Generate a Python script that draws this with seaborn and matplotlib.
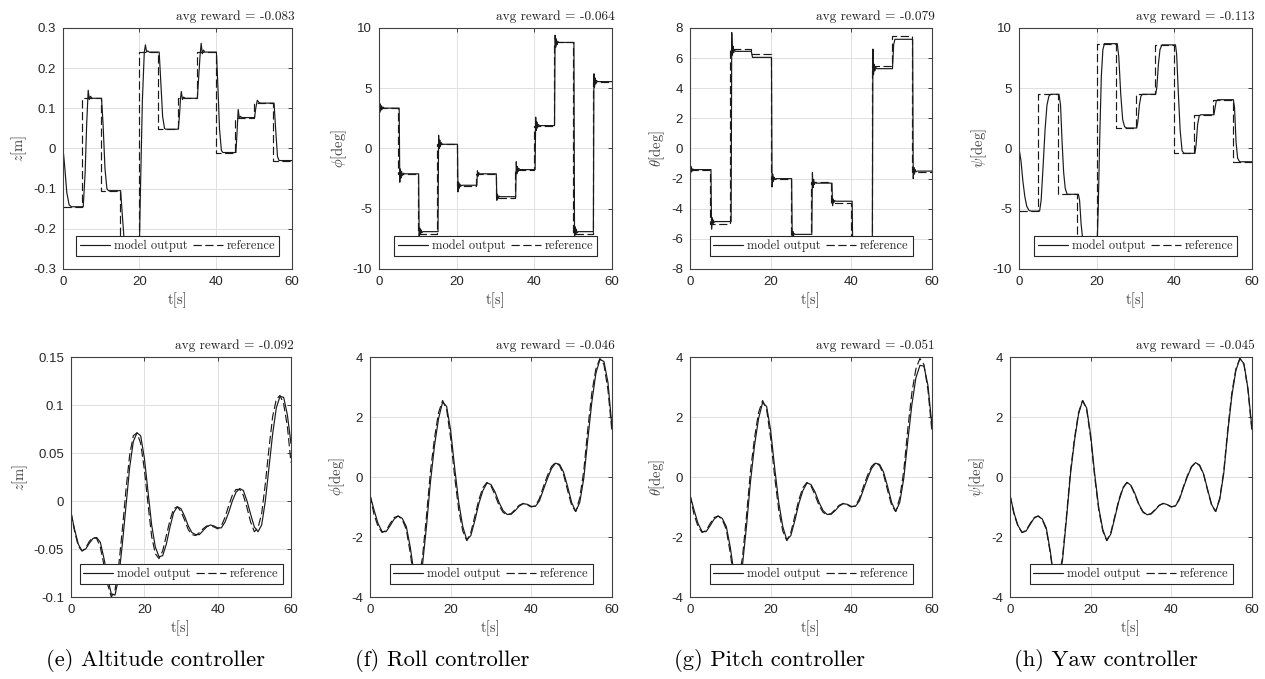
import numpy as np
import matplotlib.pyplot as plt
import seaborn as sns
from matplotlib.lines import Line2D

sns.set_theme(style="white")
plt.rcParams.update({
    "font.family": ["Liberation Sans", "DejaVu Sans"],
    "mathtext.fontset": "cm",
    "axes.edgecolor": "#404040",
    "axes.linewidth": 0.8,
    "xtick.direction": "in",
    "ytick.direction": "in",
    "xtick.top": True,
    "ytick.right": True,
    "xtick.major.size": 3,
    "ytick.major.size": 3,
    "xtick.major.width": 0.6,
    "ytick.major.width": 0.6,
    "xtick.color": "#262626",
    "ytick.color": "#262626",
    "xtick.major.pad": 5,
    "ytick.major.pad": 5,
    "axes.grid": True,
    "grid.color": "#e0e0e0",
    "grid.linewidth": 0.7,
})
SERIF = "cmr10"

# ---------------- data: step references (top row) ----------------
step_t = [0, 5, 10, 15, 20, 25, 30, 35, 40, 45, 50, 55, 60]
z_step_ref = [-0.145, 0.125, -0.105, -0.25, 0.24, 0.048, 0.125, 0.24, -0.01, 0.077, 0.113, -0.03, -0.03]
phi_step_ref = [3.35, -2.1, -7.1, 0.35, -3.15, -2.1, -4.1, -1.75, 1.9, 8.8, -7.1, 5.55, 5.55]
theta_step_ref = [-1.45, -5.0, 6.6, 6.25, -2.05, -5.85, -2.25, -3.6, -6.5, 5.5, 7.5, -1.55, -1.55]
psi_step_ref = [-5.2, 4.5, -3.8, -8.1, 8.7, 1.7, 4.5, 8.6, -0.4, 2.8, 4.05, -1.1, -1.1]

# model outputs for the step test, (t, value)
z_step_out = [
    (0, 0.0), (0.4, -0.04), (1.0, -0.11), (1.6, -0.14), (2.2, -0.145),
    (5.3, -0.145), (5.8, -0.06), (6.2, 0.06), (6.6, 0.145), (6.9, 0.122), (7.2, 0.13), (7.6, 0.125),
    (10.1, 0.125), (10.5, 0.06), (11.0, -0.05), (11.5, -0.1), (11.9, -0.105),
    (15.1, -0.105), (15.5, -0.16), (16.0, -0.225), (16.5, -0.25),
    (20.0, -0.25), (20.3, -0.1), (20.8, 0.12), (21.3, 0.24), (21.6, 0.258), (21.9, 0.24), (22.2, 0.243), (22.6, 0.24),
    (25.2, 0.24), (25.6, 0.17), (26.1, 0.08), (26.6, 0.05), (26.9, 0.048),
    (30.2, 0.048), (30.5, 0.08), (30.8, 0.125), (31.0, 0.142), (31.3, 0.122), (31.6, 0.128), (32.0, 0.125),
    (35.2, 0.125), (35.5, 0.17), (35.9, 0.23), (36.2, 0.262), (36.5, 0.236), (36.8, 0.245), (37.2, 0.24),
    (40.2, 0.24), (40.6, 0.15), (41.0, 0.05), (41.5, -0.005), (41.9, -0.01),
    (45.3, -0.01), (45.6, 0.04), (45.9, 0.097), (46.2, 0.075), (46.5, 0.08), (46.9, 0.077),
    (50.2, 0.077), (50.5, 0.1), (50.9, 0.12), (51.3, 0.115), (51.7, 0.113),
    (55.3, 0.113), (55.7, 0.05), (56.2, -0.02), (56.6, -0.03), (60.0, -0.03),
]
phi_step_out = [
    (0, 0.0), (0.1, 3.9), (0.2, 3.0), (0.3, 3.7), (0.45, 3.15), (0.6, 3.55), (0.8, 3.25), (1.0, 3.45), (1.3, 3.35),
    (5.2, 3.35), (5.35, -2.8), (5.5, -1.7), (5.65, -2.45), (5.8, -1.9), (6.0, -2.25), (6.3, -2.05), (6.6, -2.1),
    (10.2, -2.1), (10.35, -7.35), (10.5, -6.6), (10.65, -7.15), (10.8, -6.75), (11.0, -7.0), (11.3, -6.9),
    (15.2, -6.9), (15.35, 1.1), (15.5, 0.0), (15.65, 0.7), (15.8, 0.15), (16.0, 0.5), (16.3, 0.35),
    (20.2, 0.35), (20.35, -3.6), (20.5, -2.8), (20.65, -3.3), (20.8, -2.95), (21.0, -3.15), (21.3, -3.05),
    (25.2, -3.05), (25.35, -1.85), (25.5, -2.3), (25.7, -2.0), (25.9, -2.15), (26.2, -2.1),
    (30.2, -2.1), (30.35, -4.3), (30.5, -3.8), (30.7, -4.15), (30.9, -3.95), (31.2, -4.0),
    (35.2, -4.0), (35.35, -1.1), (35.5, -2.1), (35.65, -1.5), (35.8, -1.9), (36.0, -1.65), (36.3, -1.75),
    (40.2, -1.75), (40.35, 2.6), (40.5, 1.5), (40.65, 2.2), (40.8, 1.7), (41.0, 2.0), (41.3, 1.9),
    (45.2, 1.9), (45.35, 9.4), (45.5, 8.4), (45.65, 9.1), (45.8, 8.6), (46.0, 8.9), (46.3, 8.8),
    (50.2, 8.8), (50.35, -7.4), (50.5, -6.5), (50.65, -7.15), (50.8, -6.7), (51.0, -7.0), (51.3, -6.9),
    (55.2, -6.9), (55.35, 6.2), (55.5, 5.1), (55.65, 5.85), (55.8, 5.35), (56.0, 5.65), (56.3, 5.55),
    (60.0, 5.55),
]
theta_step_out = [
    (0, 0.0), (0.1, -1.75), (0.25, -1.2), (0.4, -1.55), (0.6, -1.35), (0.9, -1.4),
    (5.2, -1.4), (5.35, -5.35), (5.5, -4.6), (5.65, -5.05), (5.8, -4.75), (6.0, -4.9), (6.3, -4.85),
    (10.2, -4.85), (10.35, 7.7), (10.5, 6.2), (10.65, 6.8), (10.8, 6.35), (11.0, 6.55), (11.3, 6.45),
    (15.2, 6.45), (15.5, 6.05),
    (20.2, 6.05), (20.35, -2.55), (20.5, -1.7), (20.65, -2.2), (20.8, -1.9), (21.0, -2.05), (21.3, -2.0),
    (25.2, -2.0), (25.35, -5.95), (25.5, -5.5), (25.65, -5.8), (25.8, -5.65), (26.1, -5.7),
    (30.2, -5.7), (30.35, -1.6), (30.5, -2.6), (30.65, -2.05), (30.8, -2.4), (31.0, -2.25), (31.3, -2.3),
    (35.2, -2.3), (35.35, -3.8), (35.5, -3.35), (35.65, -3.6), (35.85, -3.45), (36.1, -3.5),
    (40.2, -3.5), (40.35, -6.8), (40.5, -6.2), (40.7, -6.5), (41.0, -6.4),
    (45.2, -6.4), (45.35, 6.6), (45.5, 4.9), (45.65, 5.6), (45.8, 5.15), (46.0, 5.4), (46.3, 5.3),
    (50.2, 5.3), (50.5, 6.9), (50.8, 7.25),
    (55.2, 7.25), (55.35, -2.0), (55.5, -1.25), (55.65, -1.7), (55.8, -1.4), (56.0, -1.55), (56.3, -1.5),
    (60.0, -1.5),
]
psi_step_out = [
    (0, 0.0), (0.5, -1.0), (1.0, -2.7), (1.5, -4.0), (2.0, -4.8), (2.6, -5.15), (3.2, -5.2),
    (5.3, -5.2), (5.7, -4.3), (6.2, -1.5), (6.7, 1.5), (7.2, 3.6), (7.7, 4.35), (8.2, 4.5),
    (10.3, 4.5), (10.7, 3.6), (11.1, 0.5), (11.5, -2.0), (11.9, -3.3), (12.4, -3.8),
    (15.3, -3.8), (15.6, -4.3), (16.0, -6.3), (16.5, -7.8), (17.0, -8.1),
    (20.1, -8.1), (20.4, -5.0), (20.8, 1.0), (21.2, 6.0), (21.6, 8.2), (22.0, 8.7),
    (25.3, 8.7), (25.7, 7.6), (26.2, 4.5), (26.7, 2.4), (27.2, 1.8), (27.8, 1.7),
    (30.3, 1.7), (30.6, 2.2), (31.0, 3.6), (31.4, 4.35), (31.8, 4.5),
    (35.2, 4.5), (35.5, 5.1), (35.9, 7.0), (36.3, 8.2), (36.8, 8.6),
    (40.3, 8.6), (40.6, 7.8), (41.0, 4.8), (41.5, 1.5), (42.0, -0.2), (42.5, -0.4),
    (45.3, -0.4), (45.6, 0.3), (46.0, 2.0), (46.4, 2.7), (46.8, 2.8),
    (50.2, 2.8), (50.5, 3.4), (50.8, 3.95), (51.2, 4.05),
    (55.2, 4.05), (55.5, 3.4), (55.9, 0.5), (56.3, -0.8), (56.8, -1.1),
    (60.0, -1.1),
]

# ---------------- data: smooth tracking test (bottom row), 1 s samples ----------------
t_smooth = np.arange(0, 61)
z_ref = [-0.012, -0.032, -0.047, -0.052, -0.049, -0.042, -0.038, -0.039, -0.048, -0.067,
         -0.087, -0.1, -0.093, -0.068, -0.03, 0.012, 0.048, 0.068, 0.071, 0.06,
         0.033, -0.003, -0.037, -0.055, -0.06, -0.052, -0.036, -0.02, -0.008, -0.006,
         -0.011, -0.02, -0.03, -0.035, -0.036, -0.033, -0.029, -0.026, -0.026, -0.027,
         -0.029, -0.026, -0.017, -0.005, 0.006, 0.012, 0.012, 0.006, -0.007, -0.022,
         -0.032, -0.028, -0.013, 0.018, 0.055, 0.088, 0.106, 0.11, 0.101, 0.078, 0.04]
z_out = [-0.012, -0.03, -0.045, -0.052, -0.05, -0.044, -0.039, -0.038, -0.043, -0.06,
         -0.08, -0.097, -0.098, -0.08, -0.045, -0.005, 0.035, 0.062, 0.071, 0.068,
         0.045, 0.01, -0.025, -0.048, -0.058, -0.057, -0.045, -0.027, -0.012, -0.006,
         -0.008, -0.016, -0.026, -0.033, -0.035, -0.035, -0.031, -0.027, -0.025, -0.026,
         -0.028, -0.028, -0.022, -0.012, 0.0, 0.009, 0.013, 0.011, 0.0, -0.014,
         -0.027, -0.032, -0.025, 0.0, 0.035, 0.07, 0.097, 0.109, 0.108, 0.09, 0.06]
ang_ref = [-0.6, -1.25, -1.65, -1.85, -1.78, -1.55, -1.35, -1.3, -1.42, -1.75,
           -2.55, -3.55, -3.4, -2.7, -1.3, 0.2, 1.3, 2.15, 2.55, 2.25,
           1.3, 0.0, -1.1, -1.8, -2.12, -1.85, -1.3, -0.75, -0.35, -0.18,
           -0.3, -0.6, -0.95, -1.18, -1.26, -1.22, -1.08, -0.94, -0.88, -0.93,
           -1.0, -0.96, -0.72, -0.32, 0.05, 0.35, 0.48, 0.38, 0.08, -0.45,
           -0.95, -1.15, -0.7, 0.2, 1.6, 2.8, 3.6, 3.95, 3.75, 2.9, 1.5]
roll_out = [-0.6, -1.1, -1.55, -1.82, -1.82, -1.62, -1.4, -1.3, -1.38, -1.65,
            -2.35, -3.3, -3.5, -2.95, -1.65, -0.15, 1.05, 1.95, 2.5, 2.35,
            1.55, 0.3, -0.85, -1.65, -2.1, -1.95, -1.45, -0.88, -0.45, -0.2,
            -0.25, -0.5, -0.85, -1.12, -1.25, -1.24, -1.12, -0.97, -0.89, -0.91,
            -0.98, -0.98, -0.8, -0.42, -0.05, 0.28, 0.46, 0.42, 0.16, -0.32,
            -0.85, -1.15, -0.85, -0.05, 1.25, 2.5, 3.45, 3.92, 3.85, 3.15, 1.65]
pitch_out = [-0.6, -1.1, -1.55, -1.82, -1.82, -1.62, -1.4, -1.3, -1.38, -1.65,
             -2.35, -3.3, -3.5, -2.95, -1.65, -0.15, 1.05, 1.95, 2.48, 2.35,
             1.55, 0.3, -0.85, -1.65, -2.1, -1.95, -1.45, -0.88, -0.45, -0.2,
             -0.25, -0.5, -0.85, -1.12, -1.25, -1.24, -1.12, -0.97, -0.89, -0.91,
             -0.98, -0.98, -0.8, -0.42, -0.05, 0.28, 0.46, 0.42, 0.16, -0.32,
             -0.85, -1.15, -0.85, -0.05, 1.2, 2.4, 3.3, 3.72, 3.7, 3.05, 1.7]
yaw_out = [-0.6, -1.2, -1.62, -1.85, -1.8, -1.58, -1.37, -1.3, -1.4, -1.7,
           -2.48, -3.5, -3.45, -2.8, -1.4, 0.1, 1.22, 2.1, 2.55, 2.3,
           1.4, 0.1, -1.02, -1.75, -2.12, -1.9, -1.35, -0.8, -0.38, -0.18,
           -0.28, -0.56, -0.92, -1.16, -1.26, -1.23, -1.1, -0.95, -0.88, -0.92,
           -0.99, -0.97, -0.75, -0.35, 0.02, 0.33, 0.48, 0.4, 0.1, -0.42,
           -0.92, -1.15, -0.75, 0.12, 1.5, 2.7, 3.55, 3.95, 3.78, 2.95, 1.6]

rewards_top = [-0.083, -0.064, -0.079, -0.113]
rewards_bot = [-0.092, -0.046, -0.051, -0.045]
ylabels = [r"$z$[m]", r"$\phi$[deg]", r"$\theta$[deg]", r"$\psi$[deg]"]
captions = ["(e) Altitude controller", "(f) Roll controller", "(g) Pitch controller", "(h) Yaw controller"]
top_yticks = [[-0.3, -0.2, -0.1, 0, 0.1, 0.2, 0.3], [-10, -5, 0, 5, 10],
              [-8, -6, -4, -2, 0, 2, 4, 6, 8], [-10, -5, 0, 5, 10]]
bot_yticks = [[-0.1, -0.05, 0, 0.05, 0.1, 0.15], [-4, -2, 0, 2, 4],
              [-4, -2, 0, 2, 4], [-4, -2, 0, 2, 4]]
x_ticks = [0, 20, 40, 60]

top_refs = [z_step_ref, phi_step_ref, theta_step_ref, psi_step_ref]
top_outs = [z_step_out, phi_step_out, theta_step_out, psi_step_out]
bot_refs = [z_ref, ang_ref, ang_ref, ang_ref]
bot_outs = [z_out, roll_out, pitch_out, yaw_out]

# ---------------- layout (pixel boxes of the reference) ----------------
W, H = 1265, 679
fig = plt.figure(figsize=(W / 100, H / 100), dpi=100)
fig.patch.set_facecolor("white")

top_x = [(63, 292), (379, 612), (690, 932), (1019, 1252)]
bot_x = [(71, 291), (370, 612), (690, 932), (1010, 1252)]
top_y = (28, 269)
bot_y = (357, 597)
caption_x = [155, 442, 769, 1106]

LW = 0.85
DASH = (0, (7, 3))


def make_ax(xr, yr):
    return fig.add_axes([xr[0] / W, 1 - yr[1] / H, (xr[1] - xr[0]) / W, (yr[1] - yr[0]) / H])


def style_ax(ax, yticks, ylabel, reward):
    ax.set_xlim(0, 60)
    ax.set_ylim(yticks[0], yticks[-1])
    ax.set_xticks(x_ticks)
    ax.set_xticklabels([f"{v:g}" for v in x_ticks], fontsize=9.5)
    ax.set_yticks(yticks)
    ax.set_yticklabels([f"{v:g}" for v in yticks], fontsize=9.5)
    ax.set_axisbelow(True)
    ax.set_facecolor("white")
    for sp in ax.spines.values():
        sp.set_visible(True)
        sp.set_color("#404040")
    ax.set_xlabel("t[s]", fontfamily=SERIF, fontsize=10.5, color="#404040", labelpad=3)
    ax.set_ylabel(ylabel, fontfamily=SERIF, fontsize=10.5, color="#404040", labelpad=3)
    ax.annotate(f"avg reward = {reward:.3f}", xy=(1, 1), xycoords="axes fraction",
                xytext=(2, 6), textcoords="offset points", ha="right", va="baseline",
                fontfamily=SERIF, fontsize=9.6, color="#222222")
    handles = [Line2D([], [], color="k", lw=LW),
               Line2D([], [], color="k", lw=LW, linestyle=DASH)]
    leg = ax.legend(handles, ["model output", "reference"], loc="lower center",
                    bbox_to_anchor=(0.5, 0.055), ncol=2, frameon=True, fancybox=False,
                    edgecolor="#262626", framealpha=1, facecolor="white",
                    prop={"family": SERIF, "size": 9}, handlelength=2.4,
                    handletextpad=0.3, columnspacing=0.45, borderpad=0.3, borderaxespad=0)
    leg.get_frame().set_linewidth(0.8)


for i in range(4):
    # top row: step references
    ax = make_ax(top_x[i], top_y)
    ts, ys = zip(*top_outs[i])
    sns.lineplot(x=list(ts), y=list(ys), ax=ax, color="k", lw=LW, estimator=None, sort=False)
    sns.lineplot(x=step_t, y=top_refs[i], ax=ax, color="k", lw=LW, linestyle=DASH,
                 drawstyle="steps-post", estimator=None, sort=False)
    style_ax(ax, top_yticks[i], ylabels[i], rewards_top[i])

    # bottom row: smooth references
    ax = make_ax(bot_x[i], bot_y)
    sns.lineplot(x=t_smooth, y=bot_outs[i], ax=ax, color="k", lw=LW, estimator=None, sort=False)
    sns.lineplot(x=t_smooth, y=bot_refs[i], ax=ax, color="k", lw=LW, linestyle=DASH,
                 estimator=None, sort=False)
    style_ax(ax, bot_yticks[i], ylabels[i], rewards_bot[i])

    fig.text(caption_x[i] / W, 1 - 661 / H, captions[i], ha="center", va="center",
             fontfamily=SERIF, fontsize=16.3, color="black")

fig.savefig("out.png", dpi=100, facecolor="white")
